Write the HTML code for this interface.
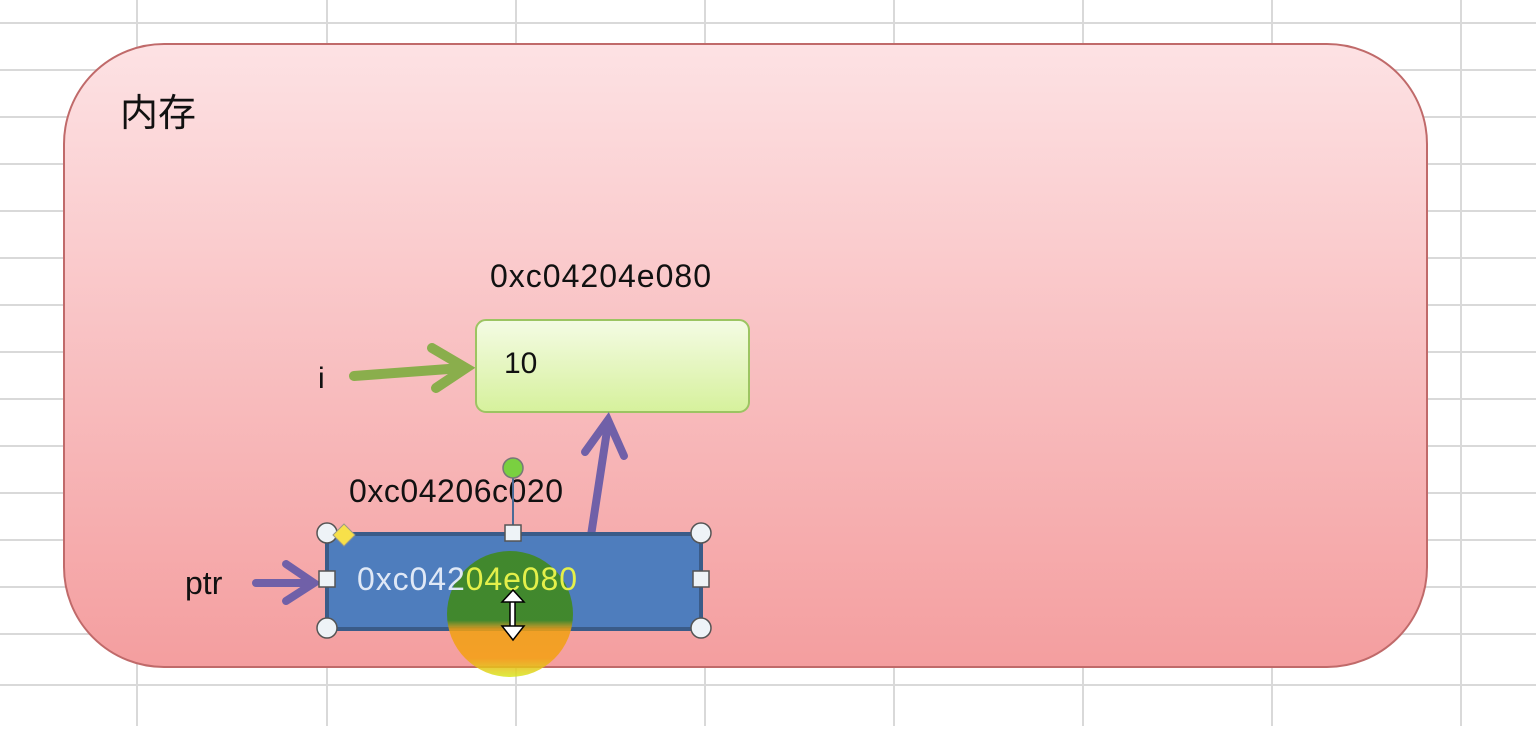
<!DOCTYPE html>
<html><head><meta charset="utf-8"><style>
body{margin:0;width:1536px;height:726px;overflow:hidden;background:#fff;font-family:"Liberation Sans","Noto Sans CJK SC",sans-serif}
</style></head><body>
<svg width="1536" height="726" xmlns="http://www.w3.org/2000/svg">
<defs>
<linearGradient id="pk" x1="0" y1="0" x2="0" y2="1"><stop offset="0" stop-color="#fde2e4"/><stop offset="1" stop-color="#f49e9f"/></linearGradient>
<linearGradient id="gr" x1="0" y1="0" x2="0" y2="1"><stop offset="0" stop-color="#f4fbe4"/><stop offset="1" stop-color="#d6f19c"/></linearGradient>
<linearGradient id="hl" x1="0" y1="0" x2="0" y2="1"><stop offset="0" stop-color="#3f8a14"/><stop offset="0.55" stop-color="#3f8a14"/><stop offset="0.62" stop-color="#f0a010"/><stop offset="0.85" stop-color="#f4a010"/><stop offset="1" stop-color="#d8e820"/></linearGradient>
</defs>
<g stroke="#d9d9d9" stroke-width="2">
<line x1="137" y1="0" x2="137" y2="726"/><line x1="327" y1="0" x2="327" y2="726"/><line x1="516" y1="0" x2="516" y2="726"/><line x1="705" y1="0" x2="705" y2="726"/><line x1="894" y1="0" x2="894" y2="726"/><line x1="1083" y1="0" x2="1083" y2="726"/><line x1="1272" y1="0" x2="1272" y2="726"/><line x1="1461" y1="0" x2="1461" y2="726"/>
<line x1="0" y1="23" x2="1536" y2="23"/><line x1="0" y1="70" x2="1536" y2="70"/><line x1="0" y1="117" x2="1536" y2="117"/><line x1="0" y1="164" x2="1536" y2="164"/><line x1="0" y1="211" x2="1536" y2="211"/><line x1="0" y1="258" x2="1536" y2="258"/><line x1="0" y1="305" x2="1536" y2="305"/><line x1="0" y1="352" x2="1536" y2="352"/><line x1="0" y1="399" x2="1536" y2="399"/><line x1="0" y1="446" x2="1536" y2="446"/><line x1="0" y1="493" x2="1536" y2="493"/><line x1="0" y1="540" x2="1536" y2="540"/><line x1="0" y1="587" x2="1536" y2="587"/><line x1="0" y1="634" x2="1536" y2="634"/><line x1="0" y1="685" x2="1536" y2="685"/>
</g>
<rect x="64" y="44" width="1363" height="623" rx="100" fill="url(#pk)" stroke="#c06a6a" stroke-width="2"/>
<text x="120" y="126" font-size="38" fill="#111">内存</text>
<text x="490" y="287" font-size="32" fill="#111" textLength="221">0xc04204e080</text>
<rect x="476" y="320" width="273" height="92" rx="10" fill="url(#gr)" stroke="#9cc462" stroke-width="2"/>
<text x="504" y="373" font-size="30" fill="#111">10</text>
<text x="318" y="388" font-size="30" fill="#111">i</text>
<g stroke="#8aae4c" stroke-width="10" fill="none" stroke-linecap="round"><line x1="354" y1="376" x2="462" y2="368"/><polyline points="432,348 466,368 436,388"/></g>
<text x="349" y="502" font-size="32" fill="#111" textLength="214">0xc04206c020</text>
<g stroke="#7060a8" stroke-width="8" fill="none" stroke-linecap="round"><line x1="590" y1="542" x2="608" y2="424"/><polyline points="585,452 608,420 624,456"/><line x1="256" y1="583" x2="312" y2="583"/><polyline points="286,564 314,583 286,601"/></g>
<text x="185" y="594" font-size="32" fill="#111">ptr</text>
<line x1="513" y1="470" x2="513" y2="533" stroke="#4a6a96" stroke-width="2"/>
<circle cx="513" cy="468" r="10" fill="#7ad040" stroke="#777" stroke-width="1.5"/>
<rect x="327" y="534" width="374" height="95" fill="#4e7dbd" stroke="#3a5b88" stroke-width="4"/>
<circle cx="510" cy="614" r="63" fill="url(#hl)" opacity="0.85"/>
<text x="357" y="590" font-size="32" fill="#dfe8f6" textLength="220">0xc042<tspan fill="#e4f04a">04e080</tspan></text>
<g fill="#eef3f7" stroke="#555" stroke-width="1.5">
<circle cx="327" cy="533" r="10"/><circle cx="701" cy="533" r="10"/><circle cx="327" cy="628" r="10"/><circle cx="701" cy="628" r="10"/>
<rect x="505" y="525" width="16" height="16"/><rect x="319" y="571" width="16" height="16"/><rect x="693" y="571" width="16" height="16"/>
</g>
<polygon points="344,524 355,535 344,546 333,535" fill="#f7e04a" stroke="#998" stroke-width="1"/>
<g stroke="#000" stroke-width="1.5" fill="#fff"><rect x="510" y="598" width="5" height="30"/><polygon points="502,602 513,590 524,602"/><polygon points="502,626 513,640 524,626"/></g>
</svg>
</body></html>
